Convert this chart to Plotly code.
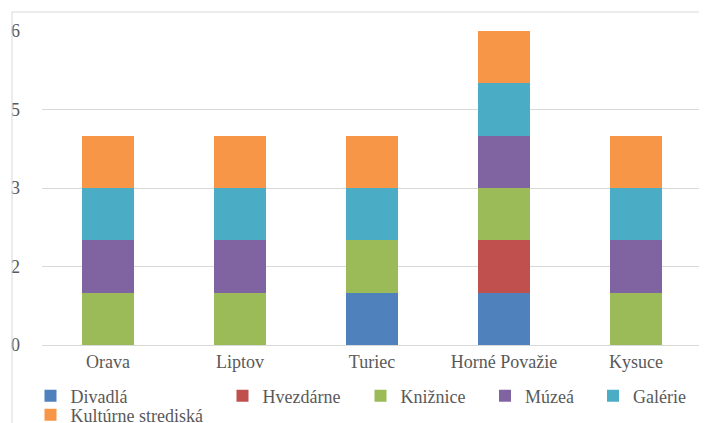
import plotly.graph_objects as go

regions = ['Orava', 'Liptov', 'Turiec', 'Horné Považie', 'Kysuce']

divadla = [0, 0, 1, 1, 0]
hvezdarne = [0, 0, 0, 1, 0]
kniznice = [1, 1, 1, 1, 1]
muzea = [1, 1, 0, 1, 1]
galerie = [1, 1, 1, 1, 1]
kulturne = [1, 1, 1, 1, 1]

y_ticks = [0, 1.5, 3, 4.5, 6]
y_labels = ['0', '2', '3', '5', '6']

series = [
    ('Divadlá', divadla, '#4F81BD'),
    ('Hvezdárne', hvezdarne, '#C0504D'),
    ('Knižnice', kniznice, '#9BBB59'),
    ('Múzeá', muzea, '#8064A2'),
    ('Galérie', galerie, '#4BACC6'),
    ('Kultúrne strediská', kulturne, '#F79646'),
]

# the page body has an 8px margin, so work in window pixels and shift
OFF = 8
W, H = 707 - OFF, 423 - OFF
L, R, T, B = 42 - OFF, 5, 31 - OFF, 78
pw = W - L - R
ph = H - T - B


def px_x(p):
    return (p - OFF - L) / pw


def px_y(p):
    return (H - B - (p - OFF)) / ph


# swatch centres of each legend entry (window pixels)
legend_pos = [(49.5, 396), (241.5, 396), (379.5, 396), (504, 396), (612, 396), (49.5, 415)]

font = dict(family='Liberation Serif', size=18, color='#595959')

fig = go.Figure()
layout_legends = {}
for i, (name, vals, color) in enumerate(series):
    key = 'legend' if i == 0 else f'legend{i + 1}'
    fig.add_trace(go.Bar(x=regions, y=vals, name=name, marker_color=color,
                         marker_line_width=0, legend=key))
    cx, cy = legend_pos[i]
    layout_legends[key] = dict(xref='container', yref='container',
                               x=(cx - OFF - 19) / W, y=1 - (cy - OFF) / H,
                               xanchor='left', yanchor='middle',
                               bgcolor='rgba(0,0,0,0)', font=font, borderwidth=0)

fig.update_layout(
    width=W, height=H,
    margin=dict(l=L, r=R, t=T, b=B, autoexpand=False),
    barmode='stack', bargap=0.6,
    plot_bgcolor='white', paper_bgcolor='white',
    font=font,
    showlegend=True,
    **layout_legends,
    xaxis=dict(showgrid=False, showline=True, linecolor='#d9d9d9', linewidth=1,
               ticks='', tickfont=font, automargin=False),
    yaxis=dict(range=[0, 6], tickvals=y_ticks, ticktext=y_labels, showgrid=True,
               gridcolor='#d9d9d9', gridwidth=1, zeroline=False, showline=False,
               ticks='', tickfont=font, ticklabelstandoff=21, automargin=False),
    shapes=[
        dict(type='line', xref='paper', yref='paper', x0=px_x(12), x1=px_x(720),
             y0=px_y(12), y1=px_y(12), line=dict(color='#d9d9d9', width=1)),
        dict(type='line', xref='paper', yref='paper', x0=px_x(12), x1=px_x(12),
             y0=px_y(12), y1=px_y(440), line=dict(color='#d9d9d9', width=1)),
    ],
)

fig.write_html('out.html')
